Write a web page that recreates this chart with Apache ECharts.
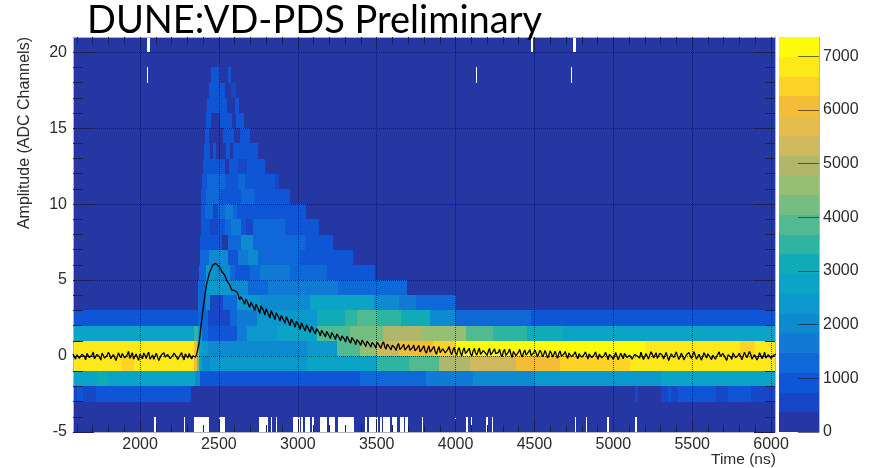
<!DOCTYPE html>
<html><head><meta charset="utf-8">
<style>html,body{margin:0;padding:0;background:#fff}#c{width:876px;height:468px;filter:blur(.45px)}</style>
<script src="https://cdn.jsdelivr.net/npm/echarts@6/dist/echarts.min.js"></script>
</head><body><div id="c"></div>
<script>
const xMajorTicks=[2000,2500,3000,3500,4000,4500,5000,5500,6000];
const xMinorTicks=[1600,1700,1800,1900,2100,2200,2300,2400,2600,2700,2800,2900,3100,3200,3300,3400,3600,3700,3800,3900,4100,4200,4300,4400,4600,4700,4800,4900,5100,5200,5300,5400,5600,5700,5800,5900];
const yMajorTicks=[-5,0,5,10,15,20];
const yMinorTicks=[-4,-3,-2,-1,1,2,3,4,6,7,8,9,11,12,13,14,16,17,18,19];
const colorTicks=[0,1000,2000,3000,4000,5000,6000,7000];
const colorMax=7360;
const palette=['#2437a3','#1547c7','#0f56d6','#0f68d8','#107ad4','#0e8bd0','#0c98cc','#0ba3c6','#11abb8','#2eb5a2','#52ba90','#75bd80','#97bf74','#b0b76a','#d0b85f','#e4bd4c','#f4bd38','#fed328','#fde91a','#fbfb0b'];
const timeMin=1575,timeMax=6025,ampMin=-5,ampMax=21;

// each row: [bin upper time, count] runs, for the amplitude bin starting at the key
const row20=[[2041,180],[2066,0],[4477,180],[4494,0],[4744,180],[4761,0],[6025,180]];
const row19=[[6025,180]];
const row18=[[2044,180],[2050,0],[2448,180],[2505,920],[2560,180],[2577,920],[4130,180],[4136,0],[4732,180],[4738,0],[6025,180]];
const row17=[[2435,180],[2460,920],[2505,1100],[2537,920],[2577,180],[2607,700],[6025,180]];
const row16=[[2425,180],[2552,920],[2600,180],[2628,920],[6025,180]];
const row15=[[2416,180],[2452,920],[2505,300],[2580,920],[2607,180],[2657,920],[6025,180]];
const row14=[[2410,180],[2438,800],[2526,180],[2594,920],[2632,180],[2695,920],[6025,180]];
const row13=[[2404,180],[2442,920],[2463,180],[2484,920],[2543,180],[2573,920],[2590,180],[2746,920],[6025,180]];
const row12=[[2400,180],[2446,920],[2537,1100],[2565,180],[2624,920],[2679,550],[2793,920],[6025,180]];
const row11=[[2393,180],[2425,920],[2537,1290],[2621,920],[2664,1290],[2858,920],[2880,550],[6025,180]];
const row10=[[2385,180],[2421,920],[2510,1290],[2569,1100],[2643,920],[2727,1290],[2949,920],[6025,180]];
const row9=[[2385,180],[2410,920],[2463,1290],[2495,550],[2537,1290],[2590,1660],[2617,1290],[2685,800],[2805,1100],[3055,920],[6025,180]];
const row8=[[2385,180],[2442,1100],[2495,400],[2537,920],[2579,1290],[2643,1660],[2674,1100],[2716,550],[2917,1290],[3135,920],[6025,180]];
const row7=[[2378,180],[2421,1100],[2520,920],[2558,180],[2643,1290],[2717,2020],[3044,1290],[3224,920],[6025,180]];
const row6=[[2378,180],[2438,1290],[2558,2020],[2621,920],[2685,1660],[2748,2020],[3013,1290],[3160,1100],[3350,920],[6025,180]];
const row5=[[2374,180],[2421,1290],[2474,2390],[2569,2020],[2600,1290],[2695,1100],[2759,1290],[2949,1800],[3182,1290],[3330,1100],[3488,920],[6025,180]];
const row4=[[2368,180],[2410,1290],[2505,2390],[2579,2400],[2685,2020],[2811,1290],[2875,1660],[3002,1500],[3255,1660],[3366,1290],[3520,1400],[3693,1200],[6025,180]];
const row3=[[2368,180],[2420,1290],[2443,2020],[2527,550],[2612,1290],[2760,2390],[3075,2020],[3485,2600],[3644,2100],[3750,1660],[4004,1290],[6025,180]];
const row2=[[2368,920],[2432,1290],[2570,700],[2612,1290],[2740,1800],[3120,2500],[3300,3130],[3375,3500],[3500,3860],[3655,3500],[3835,3130],[3994,2100],[4480,1290],[6025,920]];
const row1=[[2340,2800],[2368,3500],[2390,2400],[2432,1290],[2612,920],[2676,1660],[2866,2390],[3120,2760],[3330,3860],[3540,4230],[3784,4970],[4068,4600],[4238,3860],[4450,3500],[4680,3130],[6025,2900]];
const row0=[[2345,6810],[2360,6070],[2375,4230],[2390,2760],[2432,2390],[3060,2020],[3248,2500],[3395,3860],[3500,4600],[3644,5340],[3856,6070],[3994,6440],[5200,7180],[5800,6810],[5900,6600],[6025,6700]];
const rowM1=[[1880,6810],[1960,6500],[2345,6810],[2360,6070],[2375,4230],[2390,2760],[2443,2020],[3060,2390],[3500,2760],[3708,3500],[3898,4000],[4089,4800],[4385,5340],[4661,6070],[5106,6440],[6025,6810]];
const rowM2=[[1730,2750],[1800,2950],[2350,2800],[2380,2020],[3395,1000],[3813,1290],[4110,1660],[4502,2020],[5300,2500],[6025,2800]];
const rowM3=[[1600,700],[1640,920],[1720,700],[2326,920],[5140,180],[5155,550],[5300,180],[5345,550],[5365,920],[5410,550],[5650,800],[5725,550],[5875,800],[6025,550]];
const rowM4=[[6025,180]];
const rowM5=[[2091,180],[2104,0],[2279,180],[2285,0],[2340,180],[2438,0],[2499,180],[2539,0],[2755,180],[2808,0],[2829,180],[2839,0],[2860,180],[2869,0],[2970,180],[3013,0],[3023,180],[3034,0],[3044,180],[3076,0],[3093,180],[3101,0],[3139,180],[3182,0],[3197,180],[3237,0],[3258,180],[3357,0],[3429,180],[3440,0],[3450,180],[3510,0],[3520,180],[3535,0],[3541,180],[3583,0],[3598,180],[3632,0],[3647,180],[3672,0],[3681,180],[3700,0],[3721,180],[3727,0],[3788,180],[3795,0],[3996,180],[4002,0],[4065,180],[4076,0],[4097,180],[4103,0],[4192,180],[4207,0],[4228,180],[4235,0],[4755,180],[4761,0],[4825,180],[4835,0],[4960,180],[4970,0],[5138,180],[5148,0],[6025,180]];
const rowsByAmp={'20':row20,'19':row19,'18':row18,'17':row17,'16':row16,'15':row15,'14':row14,'13':row13,'12':row12,'11':row11,'10':row10,'9':row9,'8':row8,'7':row7,'6':row6,'5':row5,'4':row4,'3':row3,'2':row2,'1':row1,'0':row0,'-1':rowM1,'-2':rowM2,'-3':rowM3,'-4':rowM4,'-5':rowM5};

// averaged waveform: samples every 16 ns, and the samples 8 ns after each of them
const sampleStart=1575, sampleStep=16;
const waveform=[.14,-.2,.22,-.1,.17,-.25,.08,-.15,.26,-.22,.05,-.27,.19,-.06,.24,-.18,.1,-.29,.21,-.12,.16,-.23,.3,-.08,-.2,.14,-.28,.09,.2,-.16,.25,-.11,-.21,.18,-.3,.07,.22,-.14,.12,-.24,.19,-.05,-.18,.23,-.26,.11,.16,-.19,.08,
.12,.9,2.4,3.7,4.8,5.45,5.85,6.1,6.05,5.9,5.55,5.35,4.95,4.72,4.32,4.32,
4.2,3.7,3.92,3.4,3.72,3.2,3.52,3.0,3.32,2.8,3.2,2.7,3.07,2.5,2.92,2.4,2.8,2.3,2.67,2.15,2.54,2.0,2.42,1.9,2.27,1.75,2.17,1.65,2.07,1.55,1.97,1.45,1.84,1.32,1.74,1.25,1.67,1.15,1.57,1.08,1.5,1.0,1.42,.92,1.34,.85,1.24,.75,1.17,.7,1.12,.62,1.07,.58,1.0,.52,.97,.5,.94,.45,.9,.4,
.84,.36,.82,.32,.78,.3,.74,.26,.72,.24,.7,.2,.68,.18,.67,.16,.64,.12,.62,.1,.6,.15,.62,.08,.58,
.05,.56,.02,.54,.08,.52,0,.5,.06,.52,-.02,.48,.04,.5,-.04,.47,.02,.45,-.05,.44,0,.46,-.08,.42,-.02,.44,-.06,.4,-.04,.42,-.08,
.4,-.07,.38,-.04,.36,-.12,.34,-.06,.32,-.14,.34,-.08,.3,-.16,.32,-.12,.27,-.18,.28,-.14,.26,-.2,.24,-.16,.27,-.22,.22,-.18,.24,-.24,.21,
-.2,.24,-.24,.18,-.18,.27,-.22,.14,-.26,.21,-.1,.25,-.23,.17,-.19,.28,-.13,.22,-.26,.09,-.2,.24,-.3,.15,-.11,.27,-.22,.19,-.25,.07,.24,-.16,.29,-.2,.11,-.27,.22,-.13,.26,-.24,.17,-.19,.27,-.09,.21,-.29,.13,-.22,.28,-.15,.19,-.25,.24,-.11,.3,-.2,.09,-.26,.22,-.17,.25,-.13,.18,-.23,.14];
const waveformMid=[-.04,.09,-.16,.12,-.02,.18,-.1,.06,-.19,.11,-.05,.2,-.13,.03,.1,-.21,.15,-.07,.02,.17,-.12,.08,-.15,.22,-.03,-.09,.13,-.18,.05,.11,-.2,.07,-.01,.16,-.11,.19,-.06,.1,-.17,.03,.13,-.22,.08,-.04,.15,-.13,.06,.02,-.08,
.5,1.65,3.05,4.25,5.1,5.65,6.0,6.1,5.95,5.75,5.45,5.15,4.85,4.5,4.3,4.2,
4.02,3.9,3.62,3.75,3.4,3.55,3.22,3.42,3.05,3.3,2.98,3.12,2.72,3.0,2.62,2.85,2.55,2.66,2.35,2.6,2.2,2.45,2.12,2.28,1.98,2.2,1.82,2.05,1.72,1.95,1.62,1.8,1.55,1.7,1.42,1.62,1.32,1.55,1.28,1.46,1.2,1.32,1.12,1.3,1.0,1.22,.98,1.08,.88,1.04,.8,.98,.75,.9,.7,.92,.65,.8,.62,.78,.55,.72,
.55,.68,.42,.62,.4,.6,.38,.55,.34,.56,.28,.52,.33,.46,.25,.5,.28,.42,.22,.48,.2,.44,.3,.36,.24,
.4,.2,.36,.16,.38,.14,.32,.2,.34,.1,.36,.18,.28,.08,.33,.15,.24,.1,.3,.05,.26,.12,.3,.02,.25,.1,.22,.06,.28,.04,.2,
.2,.06,.24,.1,.16,.02,.2,.12,.06,.18,-.02,.14,.04,.2,-.05,.12,.02,.16,-.08,.1,.05,.14,-.1,.08,0,.12,-.12,.06,.02,.1,-.06,
-.05,.12,-.14,.03,.17,-.09,.06,-.2,.1,.01,-.13,.2,-.04,.09,-.22,.13,-.02,-.16,.18,.05,-.12,.11,-.24,.07,-.03,.19,-.08,.02,-.15,.12,.04,-.2,.16,-.06,.09,-.18,.03,.15,-.1,.06,-.21,.13,-.02,.17,-.14,.08,-.05,.2,-.11,.03,.14,-.17,.07,-.04,.12,-.2,.1,-.08,.16,.01,-.13,.09,-.16,.05,.11];

const cells=[];
Object.keys(rowsByAmp).forEach(k=>{let t0=timeMin;rowsByAmp[k].forEach(r=>{if(r[1]>0)cells.push([t0,r[0],+k,+k+1,r[1]]);t0=r[0];});});
const colorOf=v=>palette[Math.min(palette.length-1,Math.floor(v/colorMax*palette.length))];
const bands=palette.map((c,i)=>[i*colorMax/palette.length,(i+1)*colorMax/palette.length]);
const linePts=[];
waveform.forEach((v,i)=>{const t=sampleStart+i*sampleStep;linePts.push([t,v]);if(i<waveformMid.length)linePts.push([t+sampleStep/2,waveformMid[i]]);});

const rect=(api,a,b)=>{const p=api.coord(a),q=api.coord(b);
  const x0=Math.round(p[0]),x1=Math.round(q[0]),y0=Math.round(q[1]),y1=Math.round(p[1]);
  return {x:x0,y:y0,width:Math.max(1,x1-x0),height:y1-y0};};
const FF='"Liberation Sans",Arial,sans-serif', TC='#2b2b2b', EDGE='#b5b5b5', TK='#1a2050';
const noLab={show:false},noSplit={show:false};
const plain=v=>String(v);
const tickAxis=(pos,vals,len,extra)=>Object.assign({type:'value',position:pos,z:5,
  axisLine:{show:false,onZero:false},axisLabel:noLab,splitLine:noSplit,
  axisTick:{show:true,inside:true,length:len,customValues:vals,lineStyle:{color:TK,width:1}}},extra);
const xR={min:timeMin,max:timeMax,gridIndex:0}, yR={min:ampMin,max:ampMax,gridIndex:0};

const chart=echarts.init(document.getElementById('c'),null,{renderer:'canvas'});
chart.setOption({
  animation:false,backgroundColor:'#fff',
  title:{text:'DUNE:VD-PDS Preliminary',left:82,top:-3,z:20,textStyle:{fontFamily:'Lato',fontWeight:'normal',fontSize:38,color:'#000'}},
  grid:[{left:73,top:37,width:702,height:395},{left:779,top:37,width:40,height:395}],
  xAxis:[
    Object.assign(tickAxis('bottom',xMajorTicks,13,{
      name:'Time (ns)',nameLocation:'end',nameGap:-64,nameMoveOverlap:false,
      nameTextStyle:{fontFamily:FF,fontSize:15.5,color:TC,align:'left',verticalAlign:'top',padding:[20,0,0,0]},
      axisLine:{show:true,onZero:false,lineStyle:{color:EDGE,width:1}},
      axisLabel:{show:true,customValues:xMajorTicks,formatter:plain,margin:5,fontFamily:FF,fontSize:16,color:TC},
      splitLine:{show:true,lineStyle:{type:'dotted',color:'rgba(15,20,70,.75)',width:1}}}),xR),
    Object.assign(tickAxis('bottom',xMinorTicks,7),xR),
    Object.assign(tickAxis('top',xMajorTicks,13,{axisLine:{show:true,onZero:false,lineStyle:{color:EDGE,width:1}}}),xR),
    Object.assign(tickAxis('top',xMinorTicks,7),xR),
    {type:'value',gridIndex:1,min:0,max:1,show:false}
  ],
  yAxis:[
    Object.assign(tickAxis('left',yMajorTicks,21,{
      name:'Amplitude (ADC Channels)',nameLocation:'end',nameRotate:90,nameGap:0,
      nameTextStyle:{fontFamily:FF,fontSize:16,color:TC,align:'right',verticalAlign:'bottom',padding:[0,0,40,0]},
      axisLine:{show:true,onZero:false,lineStyle:{color:EDGE,width:1}},
      axisLabel:{show:true,customValues:yMajorTicks,formatter:plain,margin:6,fontFamily:FF,fontSize:16,color:TC},
      splitLine:{show:true,lineStyle:{type:'dotted',color:'rgba(15,20,70,.75)',width:1}}}),yR),
    Object.assign(tickAxis('left',yMinorTicks,10),yR),
    Object.assign(tickAxis('right',yMajorTicks,21,{axisLine:{show:true,onZero:false,lineStyle:{color:EDGE,width:1}}}),yR),
    Object.assign(tickAxis('right',yMinorTicks,10),yR),
    {type:'value',gridIndex:1,min:0,max:colorMax,position:'right',z:5,
      axisLine:{show:true,onZero:false,lineStyle:{color:EDGE,width:1}},
      axisTick:{show:true,inside:true,length:21,customValues:colorTicks,lineStyle:{color:'rgba(30,30,40,.65)',width:1}},
      axisLabel:{show:true,customValues:colorTicks,formatter:plain,margin:4,fontFamily:FF,fontSize:16,color:TC},
      splitLine:noSplit}
  ],
  series:[
    {type:'custom',name:'counts',xAxisIndex:0,yAxisIndex:0,z:2,clip:true,data:cells,encode:{x:[0,1],y:[2,3]},
      renderItem:(p,api)=>({type:'rect',shape:rect(api,[api.value(0),api.value(2)],[api.value(1),api.value(3)]),
        style:{fill:colorOf(api.value(4))}})},
    {type:'line',name:'average waveform',xAxisIndex:0,yAxisIndex:0,z:6,data:linePts,showSymbol:false,symbol:'none',
      lineStyle:{color:'#000',width:1.3},clip:true},
    {type:'custom',name:'palette',xAxisIndex:4,yAxisIndex:4,z:2,data:bands,encode:{y:[0,1]},
      renderItem:(p,api)=>({type:'rect',shape:rect(api,[0,api.value(0)],[1,api.value(1)]),
        style:{fill:palette[p.dataIndex]}})}
  ]
});
</script></body></html>
